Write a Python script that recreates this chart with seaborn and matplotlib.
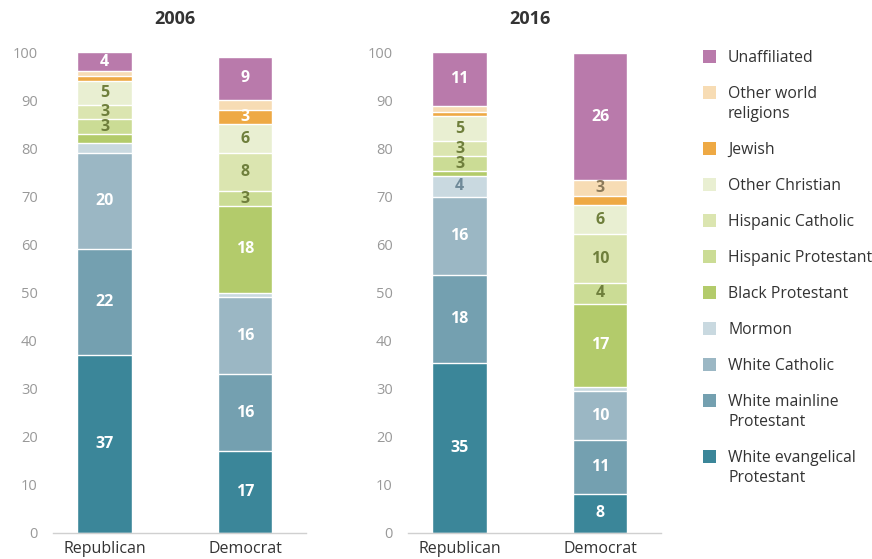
import matplotlib
matplotlib.use("Agg")
import matplotlib.pyplot as plt
from matplotlib.patches import Rectangle
import numpy as np
import pandas as pd
import seaborn as sns

# ---- data (bottom of stack first) ----
categories = ["White evangelical\nProtestant", "White mainline\nProtestant", "White Catholic",
              "Mormon", "Black Protestant", "Hispanic Protestant", "Hispanic Catholic",
              "Other Christian", "Jewish", "Other world\nreligions", "Unaffiliated"]
parties = ["Republican", "Democrat"]
years = ["2006", "2016"]

rep_2006 = [37, 22, 20, 2, 2, 3, 3, 5, 1, 1, 4]
dem_2006 = [17, 16, 16, 1, 18, 3, 8, 6, 3, 2, 9]
rep_2016 = [35.4, 18.3, 16.2, 4.3, 1.0, 3.1, 3.1, 5.2, 1.0, 1.1, 11.2]
dem_2016 = [8.2, 11.1, 10.2, 0.8, 17.4, 4.2, 10.2, 6.0, 2.0, 3.2, 26.4]

colors = ["#3b8699", "#74a0b0", "#9bb7c4", "#c9d9e0", "#b3cb6b", "#cbdc95",
          "#dbe5b0", "#e9efd2", "#eea944", "#f7dcb4", "#b97aab"]
label_colors = ["white", "white", "white", "#6f8a99", "white", "#6f7f3c",
                "#6f7f3c", "#6f7f3c", "white", "#8c7a5a", "white"]

sns.set_theme(style="white")
plt.rcParams["font.family"] = ["Open Sans", "DejaVu Sans"]

W, H = 872, 559
fig = plt.figure(figsize=(W / 100, H / 100), dpi=100)

def fx(px):
    return px / W

def fy(py):
    return 1 - py / H

panels = [
    (years[0], [rep_2006, dem_2006], 53, 306),
    (years[1], [rep_2016, dem_2016], 408, 661),
]

for title, series, x0, x1 in panels:
    ax = fig.add_axes([fx(x0), fy(533), fx(x1 - x0), (533 - 52) / H])
    data = np.array(series)  # shape (2, ncat)
    cum = np.cumsum(data, axis=1)
    # draw cumulative bars from the top of the stack down so each overlays
    for k in range(len(categories) - 1, -1, -1):
        df = pd.DataFrame({"party": parties, "value": cum[:, k]})
        sns.barplot(data=df, x="party", y="value", order=parties, color=colors[k],
                    saturation=1, width=0.39, edgecolor="white", linewidth=1.0, ax=ax,
                    errorbar=None)
    # segment labels
    for i in range(len(parties)):
        for k in range(len(categories)):
            v = data[i, k]
            if v >= 2.5:
                ax.text(i, cum[i, k] - v / 2, f"{v:.0f}", ha="center", va="center",
                        fontsize=11.5, fontweight="bold", color=label_colors[k])
    ax.set_xlim(-0.367, 1.434)
    ax.set_ylim(0, 100)
    ax.set_yticks(range(0, 101, 10))
    ax.set_xlabel("")
    ax.set_ylabel("")
    for s in ["top", "right", "left"]:
        ax.spines[s].set_visible(False)
    ax.spines["bottom"].set_color("#d0d0d0")
    ax.spines["bottom"].set_linewidth(1.0)
    ax.tick_params(axis="y", length=0, pad=11, labelsize=10.5, labelcolor="#999999")
    ax.tick_params(axis="x", length=0, pad=5.5, labelsize=11.5, labelcolor="#333333")
    ax.set_facecolor("white")
    # title centered over the two bars
    xc = (ax.transData.transform((0, 0))[0] + ax.transData.transform((1, 0))[0]) / 2
    fig.text(xc / W, fy(19), title, ha="center", va="center", fontsize=13,
             fontweight="bold", color="#333333")

# ---- legend (top of stack first) ----
y = 56.5
for k in range(len(categories) - 1, -1, -1):
    fig.add_artist(Rectangle((fx(703), fy(y + 6.5)), fx(13), 13 / H,
                             transform=fig.transFigure, facecolor=colors[k],
                             edgecolor="none"))
    fig.text(fx(728), fy(y - 6.5), categories[k], ha="left", va="top", fontsize=11.3,
             color="#333333", linespacing=1.33)
    y += 36 + 20 * categories[k].count("\n")

fig.savefig("out.png", dpi=100, facecolor="white")
